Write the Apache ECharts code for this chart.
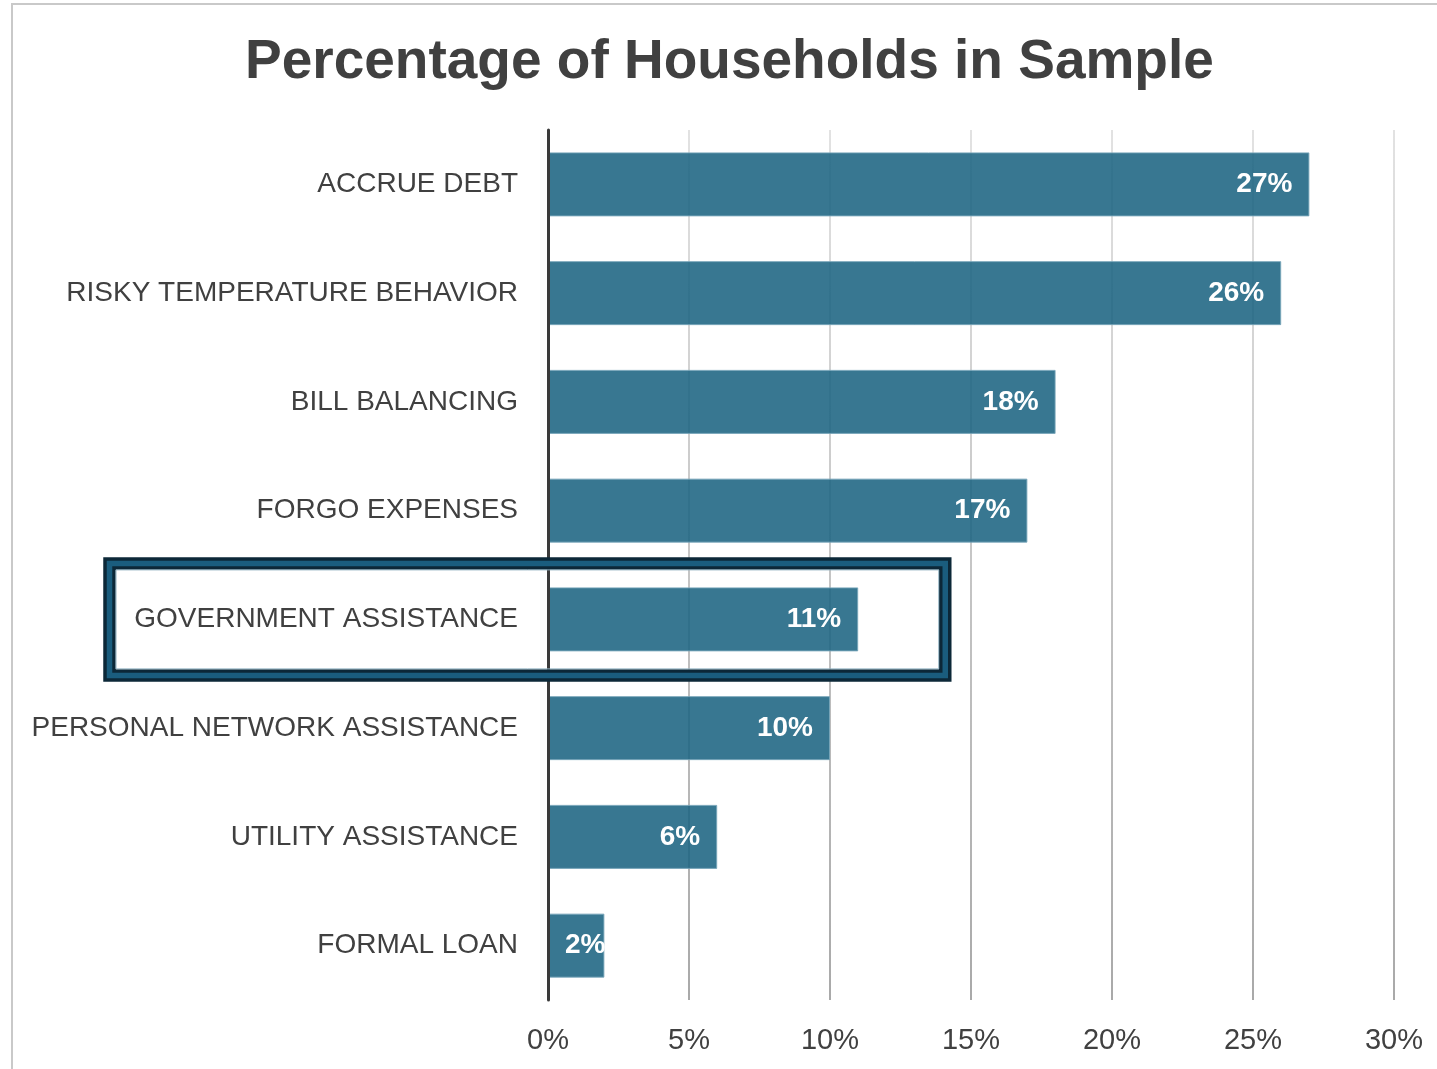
<!DOCTYPE html>
<html>
<head>
<meta charset="utf-8">
<title>Percentage of Households in Sample</title>
<script src="https://cdn.jsdelivr.net/npm/echarts@6/dist/echarts.min.js"></script>
<style>
  html, body { margin: 0; padding: 0; background: #ffffff; }
  #chart { width: 1437px; height: 1069px; }
</style>
</head>
<body>
<div id="chart"></div>
<script>
// Coping strategies, listed top to bottom
const categories = [
  'ACCRUE DEBT',
  'RISKY TEMPERATURE BEHAVIOR',
  'BILL BALANCING',
  'FORGO EXPENSES',
  'GOVERNMENT ASSISTANCE',
  'PERSONAL NETWORK ASSISTANCE',
  'UTILITY ASSISTANCE',
  'FORMAL LOAN'
];
// Share of households (%)
const shares = [27, 26, 18, 17, 11, 10, 6, 2];
// Value axis ticks (%)
const axisTicks = [0, 5, 10, 15, 20, 25, 30];
// Category that gets the highlight frame
const highlighted = 'GOVERNMENT ASSISTANCE';

const textColor = '#404040';
const fontFamily = '"Liberation Sans", Arial, sans-serif';

const chart = echarts.init(document.getElementById('chart'), null, { renderer: 'canvas' });

const barData = shares.map((v) => {
  const item = { value: v };
  // very short bar: label starts from the bar's left side
  if (v < 5) {
    item.label = { position: [17, '50%'], align: 'left', verticalAlign: 'middle' };
  }
  return item;
});

const option = {
  backgroundColor: '#ffffff',
  animation: false,
  title: {
    text: 'Percentage of Households in Sample',
    left: 240,
    top: 30,
    textStyle: {
      fontFamily: fontFamily,
      fontSize: 55,
      fontWeight: 'bold',
      color: textColor
    }
  },
  grid: { left: 548, right: 43, top: 130, bottom: 69, containLabel: false },
  xAxis: {
    type: 'value',
    min: axisTicks[0],
    max: axisTicks[axisTicks.length - 1],
    interval: axisTicks[1] - axisTicks[0],
    axisLine: { show: false },
    axisTick: { show: false },
    axisLabel: {
      formatter: '{value}%',
      margin: 26,
      fontFamily: fontFamily,
      fontSize: 29,
      color: textColor
    },
    splitLine: {
      show: true,
      lineStyle: {
        width: 2,
        color: new echarts.graphic.LinearGradient(0, 130, 0, 1000, [
          { offset: 0, color: '#e2e2e2' },
          { offset: 1, color: '#a9a9a9' }
        ], true)
      }
    },
    z: 1
  },
  yAxis: {
    type: 'category',
    data: categories,
    inverse: true,
    axisLine: { show: true, lineStyle: { color: '#3a3a3a', width: 3 } },
    axisTick: { show: false },
    axisLabel: {
      margin: 30,
      fontFamily: fontFamily,
      fontSize: 28,
      color: textColor
    },
    z: 4
  },
  series: [{
    type: 'bar',
    data: barData,
    barWidth: 64,
    z: 2,
    itemStyle: {
      color: 'rgba(28, 100, 130, 0.88)',
      borderColor: 'rgba(120, 165, 185, 0.9)',
      borderWidth: 1
    },
    label: {
      show: true,
      position: 'insideRight',
      distance: 17,
      formatter: '{c}%',
      fontFamily: fontFamily,
      fontSize: 28,
      fontWeight: 'bold',
      color: '#ffffff'
    }
  }]
};

chart.setOption(option);

// Outer chart frame and the highlight box around one category row
const rowY = chart.convertToPixel({ yAxisIndex: 0 }, highlighted);
const boxRightX = chart.convertToPixel({ xAxisIndex: 0 }, 14.3);
const boxLeft = 109.5, boxTop = rowY - 56, boxH = 112;
const boxW = boxRightX - 6 - boxLeft;

chart.setOption({
  graphic: [
    {
      type: 'rect',
      shape: { x: 12, y: 4, width: 1600, height: 1600 },
      style: { fill: null, stroke: '#c9c9c9', lineWidth: 2 },
      silent: true,
      z: 0
    },
    {
      type: 'rect',
      shape: { x: boxLeft, y: boxTop, width: boxW, height: boxH },
      style: { fill: null, stroke: '#0c2838', lineWidth: 12.5 },
      silent: true,
      z: 100
    },
    {
      type: 'rect',
      shape: { x: boxLeft, y: boxTop, width: boxW, height: boxH },
      style: { fill: null, stroke: '#1a5d7e', lineWidth: 5.5 },
      silent: true,
      z: 101
    },
    {
      type: 'rect',
      shape: { x: boxLeft + 6.5, y: boxTop + 6.5, width: boxW - 13, height: boxH - 13 },
      style: { fill: null, stroke: '#8fb0c0', lineWidth: 1 },
      silent: true,
      z: 102
    }
  ]
});
</script>
</body>
</html>
